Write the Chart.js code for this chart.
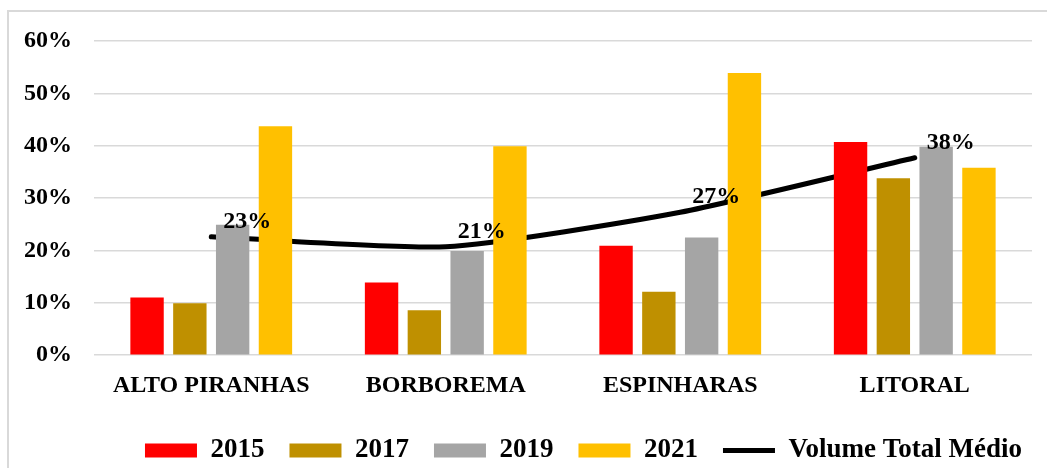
<!DOCTYPE html>
<html>
<head>
<meta charset="utf-8">
<script src="https://cdn.jsdelivr.net/npm/chart.js@4"></script>
<style>
  body { margin: 0; background: #fff; }
  #wrap { position: relative; width: 1047px; height: 468px; }
</style>
</head>
<body>
<div id="wrap"><canvas id="myChart"></canvas></div>
<script>
// categorias e valores (%)
const regioes = ['ALTO PIRANHAS', 'BORBOREMA', 'ESPINHARAS', 'LITORAL']
const anos = ['2015', '2017', '2019', '2021']
const v2015 = [11.0, 13.9, 20.9, 40.7]
const v2017 = [9.9, 8.6, 12.1, 33.8]
const v2019 = [24.9, 19.9, 22.5, 39.8]
const v2021 = [43.7, 39.9, 53.9, 35.8]
const volumeMedio = [22.6, 20.7, 27.3, 37.7]
const yTicks = [0, 10, 20, 30, 40, 50, 60]

const cores = ['#ff0000', '#bf9000', '#a5a5a5', '#ffc000']
const fonte = 'Liberation Serif, Times New Roman, serif'

// moldura cinza (só topo e esquerda aparecem no recorte)
const moldura = {
  id: 'moldura',
  beforeDraw(chart) {
    const c = chart.ctx
    c.save()
    c.strokeStyle = '#d9d9d9'
    c.lineWidth = 2
    c.beginPath()
    c.moveTo(8, chart.height)
    c.lineTo(8, 11)
    c.lineTo(chart.width, 11)
    c.stroke()
    c.restore()
  }
}

// legenda encostada mais à direita, como no original
const legendaDireita = {
  id: 'legendaDireita',
  afterLayout(chart) {
    chart.legend.right = chart.width
  }
}

// rótulos da linha
const rotulos = {
  id: 'rotulos',
  afterDatasetsDraw(chart) {
    const c = chart.ctx
    const meta = chart.getDatasetMeta(4)
    c.save()
    c.font = 'bold 24px ' + fonte
    c.fillStyle = '#000'
    c.textAlign = 'left'
    c.textBaseline = 'middle'
    meta.data.forEach((p, i) => {
      c.fillText(Math.round(volumeMedio[i]) + '%', p.x + 12, p.y - 15)
    })
    c.restore()
  }
}

const series = [v2015, v2017, v2019, v2021]
const datasets = series.map((d, i) => ({
  label: anos[i],
  data: d,
  backgroundColor: cores[i],
  pointStyle: 'rect',
  categoryPercentage: 0.73,
  barPercentage: 0.78
}))
datasets.push({
  type: 'line',
  label: 'Volume Total Médio',
  data: volumeMedio,
  borderColor: '#000',
  backgroundColor: '#000',
  borderWidth: 5,
  borderCapStyle: 'round',
  tension: 0.2,
  pointRadius: 0,
  pointStyle: 'line',
  pointBorderColor: '#000',
  pointBorderWidth: 5
})

new Chart(document.getElementById('myChart').getContext('2d'), {
  type: 'bar',
  data: { labels: regioes, datasets: datasets },
  plugins: [moldura, legendaDireita, rotulos],
  options: {
    responsive: true,
    maintainAspectRatio: false,
    animation: false,
    layout: { padding: { left: 2, right: 15, top: 41, bottom: -6 } },
    plugins: {
      tooltip: { enabled: false },
      legend: {
        position: 'bottom',
        align: 'end',
        labels: {
          usePointStyle: true,
          pointStyleWidth: 52,
          boxHeight: 14,
          padding: 25,
          color: '#000',
          font: { family: fonte, size: 27, weight: 'bold' }
        }
      }
    },
    scales: {
      x: {
        grid: { display: false },
        border: { display: false },
        afterFit(scale) { scale.height += 4 },
        ticks: {
          color: '#000',
          padding: 8,
          font: { family: fonte, size: 24, weight: 'bold' }
        }
      },
      y: {
        min: yTicks[0],
        max: yTicks[yTicks.length - 1],
        afterBuildTicks(axis) { axis.ticks = yTicks.map(v => ({ value: v })) },
        grid: { color: '#d9d9d9', lineWidth: 1.5, drawTicks: false },
        border: { display: false },
        ticks: {
          color: '#000',
          padding: 22,
          font: { family: fonte, size: 24, weight: 'bold' },
          callback: v => v + '%'
        }
      }
    }
  }
})
</script>
</body>
</html>
